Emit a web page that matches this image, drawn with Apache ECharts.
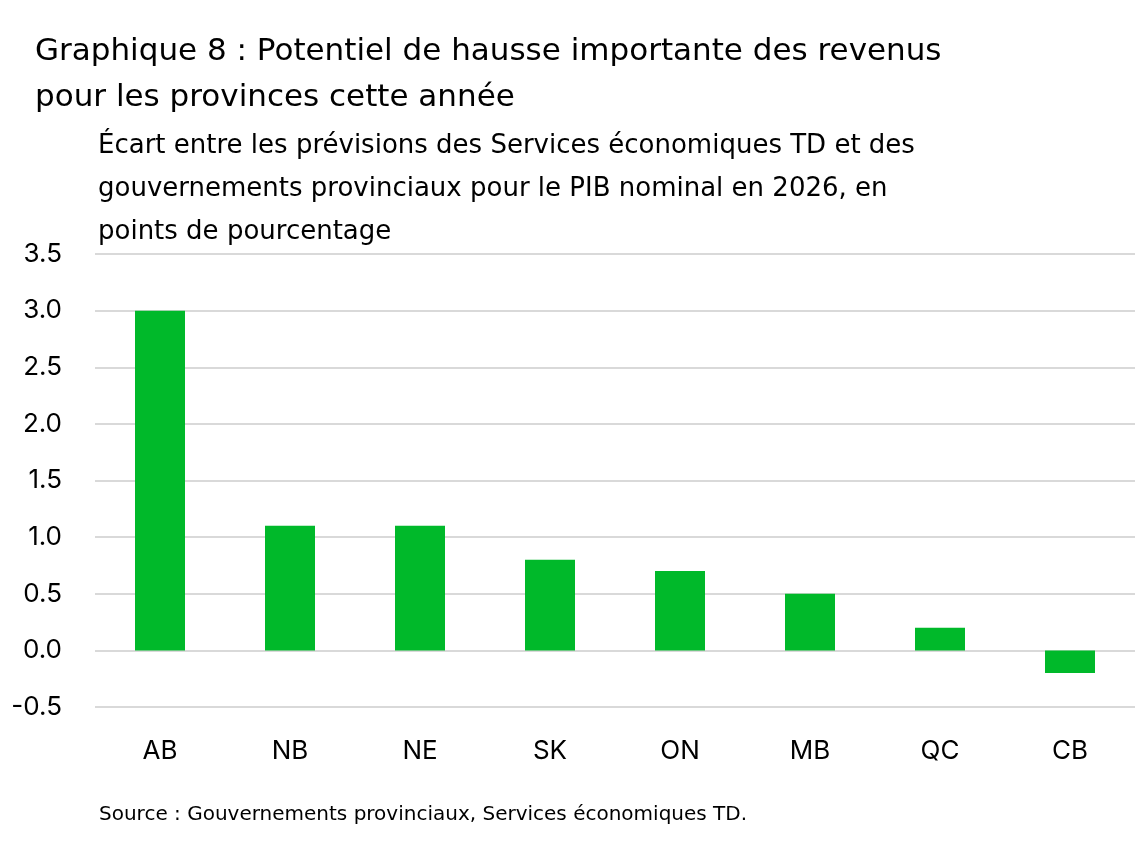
<!DOCTYPE html>
<html><head><meta charset="utf-8">
<script src="https://cdn.jsdelivr.net/npm/echarts@6/dist/echarts.min.js"></script>
<style>html,body{margin:0;padding:0;background:#fff}#c{width:1135px;height:847px}</style>
</head><body><div id="c"></div>
<script>
const categories = ['AB','NB','NE','SK','ON','MB','QC','CB'];
const values = [3.0,1.1,1.1,0.8,0.7,0.5,0.2,-0.2];
const chart = echarts.init(document.getElementById('c'));
const F = 'Inter, "Noto Sans", sans-serif';
const W = '"DejaVu Sans", sans-serif';
chart.setOption({
  animation:false,
  title:[
    {text:'Graphique 8 : Potentiel de hausse importante des revenus\npour les provinces cette année',left:30,top:24,
     textStyle:{fontFamily:W,fontSize:31,fontWeight:'normal',color:'#000',lineHeight:46}},
    {text:'Écart entre les prévisions des Services économiques TD et des\ngouvernements provinciaux pour le PIB nominal en 2026, en\npoints de pourcentage',left:93,top:120,
     textStyle:{fontFamily:W,fontSize:26,fontWeight:'normal',color:'#000',lineHeight:43}},
    {text:'Source : Gouvernements provinciaux, Services économiques TD.',left:94,top:800,
     textStyle:{fontFamily:W,fontSize:20,fontWeight:'normal',color:'#000'}}
  ],
  grid:{left:95,right:0,top:254,bottom:140},
  xAxis:{type:'category',data:categories,axisLine:{show:false},axisTick:{show:false},
    axisLabel:{fontFamily:F,fontSize:26,color:'#000',margin:0,verticalAlign:'middle'},position:'bottom',offset:44},
  yAxis:{type:'value',min:-0.5,max:3.5,interval:0.5,
    axisLabel:{fontFamily:F,fontSize:26,color:'#000',margin:33,formatter:v=>v.toFixed(1)},
    splitLine:{lineStyle:{color:'#d9d9d9',width:2}},axisLine:{show:false},axisTick:{show:false}},
  series:[{type:'bar',data:values,barWidth:50,itemStyle:{color:'#00b92a'}}]
});
</script></body></html>
